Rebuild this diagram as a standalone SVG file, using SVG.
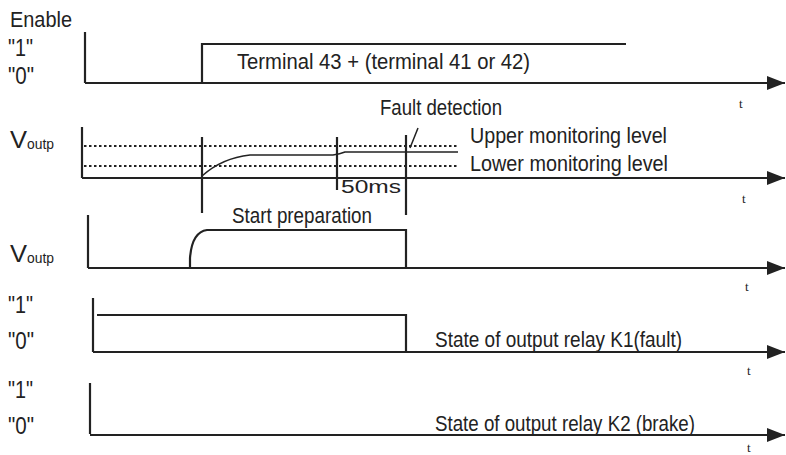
<svg xmlns="http://www.w3.org/2000/svg" width="786" height="455" viewBox="0 0 786 455">
<style>
text{font-family:"Liberation Sans",Arial,sans-serif;fill:#222}
.lbl{font-size:21.5px}
.big{font-size:23px}
.sig{fill:none;stroke:#222;stroke-width:2.2}
.dot{fill:none;stroke:#222;stroke-width:2;stroke-dasharray:2.5 2.5}
.thin{fill:none;stroke:#222;stroke-width:1.5}
.t{font-size:13px;font-family:"Liberation Serif",serif}
</style>
<defs>
<marker id="arr" markerWidth="18" markerHeight="14" refX="18" refY="7" orient="auto" markerUnits="userSpaceOnUse" viewBox="0 0 18 14">
<path d="M0,0 L18,7 L0,14 Z" fill="#222"/>
</marker>
</defs>
<rect width="786" height="455" fill="#fff"/>

<g id="labels">
<text x="10" y="27" font-size="22" textLength="62" lengthAdjust="spacingAndGlyphs">Enable</text>
<text class="big" x="8" y="56" textLength="25" lengthAdjust="spacingAndGlyphs">"1"</text>
<text class="big" x="8" y="84" textLength="26" lengthAdjust="spacingAndGlyphs">"0"</text>
<text x="10" y="148" font-size="24"><tspan textLength="17" lengthAdjust="spacingAndGlyphs">V</tspan><tspan font-size="15" dy="1" textLength="27" lengthAdjust="spacingAndGlyphs">outp</tspan></text>
<text x="10" y="262" font-size="24"><tspan textLength="17" lengthAdjust="spacingAndGlyphs">V</tspan><tspan font-size="15" dy="1" textLength="27" lengthAdjust="spacingAndGlyphs">outp</tspan></text>
<text class="big" x="8" y="313" textLength="25" lengthAdjust="spacingAndGlyphs">"1"</text>
<text class="big" x="8" y="349" textLength="26" lengthAdjust="spacingAndGlyphs">"0"</text>
<text class="big" x="8" y="398" textLength="25" lengthAdjust="spacingAndGlyphs">"1"</text>
<text class="big" x="8" y="434" textLength="26" lengthAdjust="spacingAndGlyphs">"0"</text>
</g>

<g id="enable">
<path class="sig" d="M85,32 V83"/>
<path class="sig" d="M202,83 V44 H626"/>
<text class="lbl" x="237" y="69" textLength="293" lengthAdjust="spacingAndGlyphs">Terminal 43 + (terminal 41 or 42)</text>
<text class="t" x="739" y="108">t</text>
</g>

<g id="voutp-monitor">
<path class="sig" d="M82,127 V178"/>
<path class="dot" d="M84,146 H458"/>
<path class="dot" d="M84,166 H458"/>
<path class="sig" d="M202,137 V213"/>
<path class="thin" d="M202,176 Q222,158 250,155 H333 Q340,154 345,152 H458"/>
<path class="sig" d="M337,137 V190"/>
<path class="sig" d="M406,135 V215"/>
<path class="thin" d="M410,148 L418,128"/>
<text x="341" y="193" font-size="18" textLength="60" lengthAdjust="spacingAndGlyphs">50ms</text>
<text class="lbl" x="380" y="115" textLength="122" lengthAdjust="spacingAndGlyphs">Fault detection</text>
<text class="lbl" x="470" y="143" textLength="197" lengthAdjust="spacingAndGlyphs">Upper  monitoring level</text>
<text class="lbl" x="470" y="171" textLength="198" lengthAdjust="spacingAndGlyphs">Lower  monitoring level</text>
<text class="t" x="742" y="203">t</text>
</g>

<g id="voutp-start">
<path class="sig" d="M88,215 V268"/>
<path class="sig" d="M190,268 V258 Q192,232 207,230 H406 V268"/>
<text class="lbl" x="232" y="223" textLength="140" lengthAdjust="spacingAndGlyphs">Start preparation</text>
<text class="t" x="745" y="291">t</text>
</g>

<g id="relay-k1">
<path class="sig" d="M93,298 V352"/>
<path class="sig" d="M97,315 H406 V352"/>
<text class="lbl" x="435" y="347" textLength="247" lengthAdjust="spacingAndGlyphs">State of output relay K1(fault)</text>
<text class="t" x="747" y="375">t</text>
</g>

<g id="relay-k2">
<path class="sig" d="M90,383 V434"/>
<text class="lbl" x="435" y="431" textLength="260" lengthAdjust="spacingAndGlyphs">State of output relay K2 (brake)</text>
<text class="t" x="747" y="452" font-size="11">t</text>
</g>

<g id="axes">
<path class="sig" d="M85,83 H785" marker-end="url(#arr)"/>
<path class="sig" d="M82,178 H785" marker-end="url(#arr)"/>
<path class="sig" d="M88,268 H785" marker-end="url(#arr)"/>
<path class="sig" d="M93,352 H785" marker-end="url(#arr)"/>
<path class="sig" d="M90,435 H785" marker-end="url(#arr)"/>
</g>
</svg>
